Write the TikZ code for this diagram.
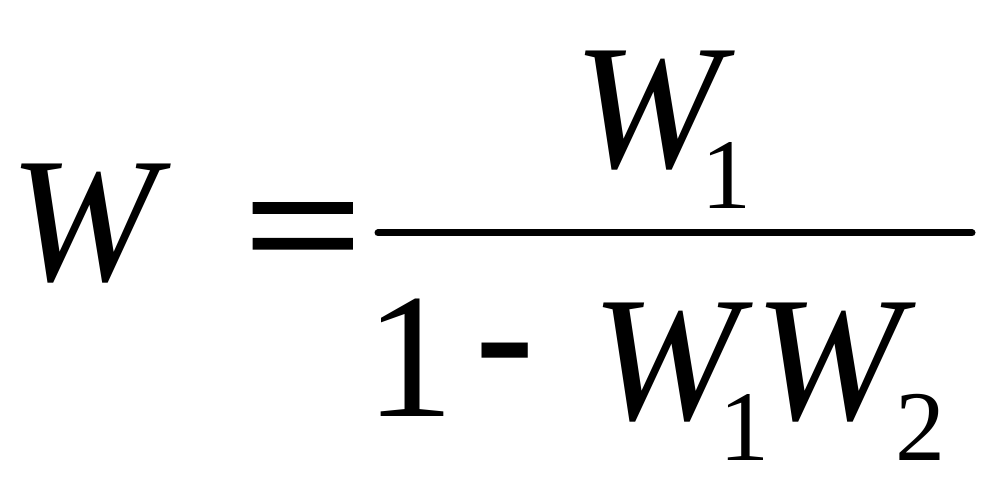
\documentclass[tikz,border=0pt]{standalone}
\usepackage{fontspec}
\setmainfont{Liberation Serif}
\newfontfamily\eqfont{Liberation Serif}[BoldFont={Liberation Serif},BoldFeatures={FakeBold=1.6}]
\begin{document}
\begin{tikzpicture}[x=1pt,y=-1pt,
  big/.style={anchor=base west,inner sep=0pt,outer sep=0pt,font=\fontsize{178}{200}\selectfont},
  small/.style={anchor=base west,inner sep=0pt,outer sep=0pt,font=\fontsize{100}{110}\selectfont}]
\useasboundingbox[fill=white] (0,0) rectangle (1007,497);
% left side
\node[big] (lw) at (9.5,280) {\itshape W};
\node[big] (eq) at (244,285) {\scalebox{1.17}[1.0]{\eqfont\bfseries =}};
% fraction bar
\coordinate (barL) at (378,233);
\coordinate (barR) at (972,233);
\draw[line width=7pt,line cap=round] (barL) -- (barR);
% numerator
\node[big] (nw) at (573.4,168) {\itshape W};
\node[small] (n1) at (701,209) {1};
% denominator
\node[big] (d1) at (365,416) {1};
\node[big] (dm) at (475,392) {\bfseries -};
\node[big] (dw1) at (591.4,419) {\itshape W};
\node[small] (ds1) at (719,460) {1};
\node[big] (dw2) at (754.4,419) {\itshape W};
\node[small] (ds2) at (895,460) {2};
\end{tikzpicture}
\end{document}
